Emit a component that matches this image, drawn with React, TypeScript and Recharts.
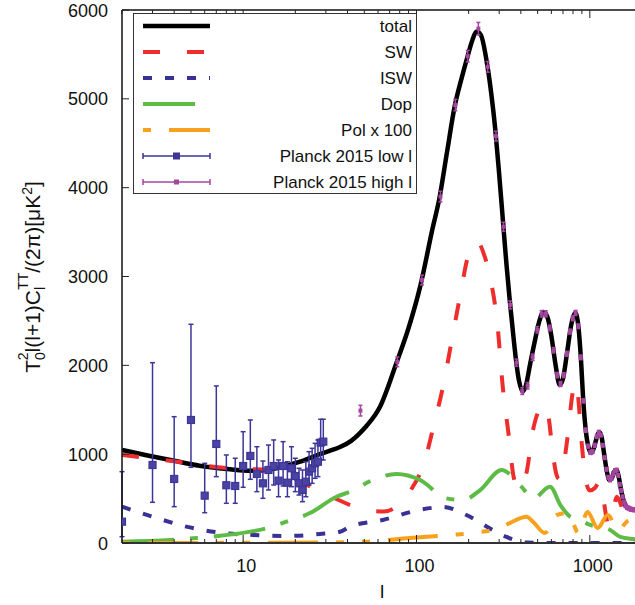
import React from 'react';
import { ComposedChart, Line, Scatter, XAxis, YAxis, ErrorBar, Legend } from 'recharts';

// multipoles l and D_l values in muK^2
const totalL = [2, 2.9, 4, 5.6, 8.4, 11, 14, 16.9, 21.3, 27.7, 33, 36.2, 42, 47, 51.6, 61.6, 76.7, 90, 105, 124.5, 135, 150, 166, 182, 197, 210, 222, 235, 256, 270, 285, 300, 316, 330, 345, 360, 375, 390, 410, 430, 450, 480, 510, 540, 570, 600, 635, 670, 700, 740, 780, 825, 860, 890, 916, 950, 985, 1018, 1060, 1100, 1134, 1170, 1210, 1250, 1298, 1340, 1380, 1424, 1470, 1520, 1570, 1630, 1700, 1830, 2000];
const totalV = [1047, 980, 925, 870, 830, 814, 825, 859, 915, 1000, 1050, 1080, 1150, 1235, 1320, 1535, 2030, 2420, 2886, 3562, 3862, 4400, 4913, 5230, 5476, 5660, 5757, 5720, 5382, 5060, 4650, 4150, 3603, 3150, 2736, 2380, 2061, 1830, 1704, 1790, 1990, 2260, 2490, 2601, 2540, 2330, 2000, 1779, 1850, 2150, 2450, 2590, 2430, 2050, 1610, 1250, 1070, 1013, 1080, 1200, 1250, 1190, 1000, 820, 709, 730, 800, 822, 740, 580, 470, 405, 385, 372, 340];

const swL = [2, 3, 4, 6, 8, 12, 15, 18, 20, 23, 28, 35, 45, 55, 65, 80, 93, 111, 126, 144, 160, 178, 200, 225, 245, 268, 292, 316, 339, 363, 385, 410, 431, 470, 510, 545, 580, 610, 640, 665, 700, 750, 790, 822, 850, 900, 950, 1000, 1070, 1140, 1200, 1280, 1350, 1430, 1500, 1570, 1740, 2000];
const swV = [990, 950, 920, 870, 845, 830, 820, 780, 720, 660, 580, 490, 400, 360, 355, 440, 600, 910, 1330, 1810, 2290, 2770, 3250, 3390, 3250, 2960, 2490, 1720, 1240, 750, 620, 660, 790, 1270, 1500, 1560, 1400, 1030, 780, 720, 850, 1250, 1650, 1810, 1700, 1100, 700, 590, 620, 690, 480, 210, 300, 520, 450, 330, 220, 170];

const iswL = [2, 3, 4.7, 7.35, 11.4, 17.8, 27.7, 36.2, 41.3, 64, 105, 142, 194, 276, 331, 433, 600, 1000, 2000];
const iswV = [409, 296, 184, 116, 90, 79, 101, 127, 184, 259, 374, 405, 315, 146, 68, 5, 0, 0, 0];

const dopL = [2, 3.8, 5.4, 7.35, 13.7, 17.8, 24.3, 34.6, 41.3, 56, 76.7, 105, 149, 186, 233, 310, 400, 472, 589, 680, 770, 880, 1005, 1145, 1310, 1500, 1785, 2000];
const dopV = [15, 34, 56, 82, 167, 240, 337, 521, 577, 709, 776, 709, 502, 484, 596, 822, 640, 502, 633, 420, 296, 259, 203, 180, 146, 68, 45, 35];

const polL = [2, 10, 30, 51.6, 91.6, 156, 222, 303, 345, 431, 470, 550, 642, 750, 860, 970, 1110, 1270, 1450, 1700, 2000];
const polV = [0, 2, 5, 15, 56, 90, 118, 169, 224, 296, 240, 113, 315, 338, 113, 349, 169, 315, 146, 259, 150];

const lowL = [2, 3, 4, 5, 6, 7, 8, 9, 10, 11, 12, 13, 14, 15, 16, 17, 18, 19, 20, 21, 22, 23, 24, 25, 26, 27, 28, 29];
const lowV = [240, 878, 721, 1385, 533, 1115, 650, 642, 867, 980, 777, 672, 822, 867, 702, 867, 679, 841, 754, 672, 597, 690, 803, 841, 897, 915, 1130, 1141];
const lowHi = [803, 2030, 1422, 2462, 897, 1768, 991, 954, 1253, 1385, 1084, 923, 1103, 1160, 935, 1141, 915, 1084, 954, 841, 822, 915, 1028, 1066, 1122, 1160, 1393, 1393];
const lowLo = [71, 458, 409, 852, 341, 747, 447, 447, 627, 717, 578, 503, 597, 653, 521, 642, 521, 634, 578, 540, 465, 521, 653, 672, 728, 747, 935, 935];

const highL = [47.5, 77.5, 107.5, 137.5, 167.5, 197.5, 227.5, 257.5, 287.5, 317.5, 347.5, 377.5, 407.5, 437.5, 467.5, 497.5, 527.5, 557.5, 587.5, 617.5, 647.5, 677.5, 707.5, 737.5, 767.5, 797.5, 827.5, 857.5, 887.5, 917.5, 947.5, 977.5, 1007.5, 1037.5, 1067.5, 1097.5, 1127.5, 1157.5, 1187.5, 1217.5, 1247.5, 1277.5, 1307.5, 1337.5, 1367.5, 1397.5, 1427.5, 1457.5, 1487.5, 1517.5, 1547.5, 1577.5, 1607.5, 1637.5, 1667.5, 1697.5, 1727.5, 1757.5, 1787.5, 1817.5];
const highV = [1490, 2040, 2960, 3900, 4930, 5480, 5790, 5360, 4580, 3560, 2680, 2030, 1710, 1770, 2090, 2400, 2580, 2580, 2420, 2170, 1890, 1790, 1890, 2130, 2380, 2530, 2590, 2440, 2090, 1600, 1270, 1090, 1020, 1030, 1100, 1200, 1245, 1215, 1100, 960, 830, 740, 710, 730, 780, 815, 820, 760, 660, 590, 520, 460, 420, 400, 395, 385, 380, 378, 374, 372];
const highErr = [60, 55, 55, 60, 65, 65, 70, 60, 55, 50, 45, 40, 38, 36, 36, 36, 36, 34, 32, 30, 30, 28, 28, 28, 28, 28, 28, 26, 26, 24, 24, 22, 22, 22, 22, 22, 22, 20, 20, 20, 20, 20, 20, 20, 20, 20, 20, 20, 20, 20, 20, 20, 20, 20, 20, 20, 20, 20, 20, 20];

const xTicks = [2, 3, 4, 5, 6, 7, 8, 9, 10, 20, 30, 40, 50, 60, 70, 80, 90, 100, 200, 300, 400, 500, 600, 700, 800, 900, 1000, 2000];
const yTicks = [0, 1000, 2000, 3000, 4000, 5000, 6000];
const majorX = [10, 100, 1000];

const legendNames = ['total', 'SW', 'ISW', 'Dop', 'Pol x 100', 'Planck 2015 low l', 'Planck 2015 high l'];

const FONT = '"Liberation Sans", Arial, Helvetica, sans-serif';
const C = {
  total: '#000000',
  sw: '#ee2d2d',
  isw: '#3a3194',
  dop: '#5dbb46',
  pol: '#f7a11c',
  low: '#3d3597',
  high: '#a4469f',
};

const toRows = (ls: number[], vs: number[]) => ls.map((l, i) => ({ l, v: vs[i] }));

const totalData = toRows(totalL, totalV);
const swData = toRows(swL, swV);
const iswData = toRows(iswL, iswV);
const dopData = toRows(dopL, dopV);
const polData = toRows(polL, polV);
const lowData = lowL.map((l, i) => ({ l, v: lowV[i], err: [lowV[i] - lowLo[i], lowHi[i] - lowV[i]] }));
const highData = highL.map((l, i) => ({ l, v: highV[i], err: highErr[i] }));

const BottomTick = (props: any) => {
  const { x, y, payload } = props;
  const major = majorX.includes(payload.value);
  return (
    <g>
      <line x1={x} x2={x} y1={y} y2={y - (major ? 8 : 4)} stroke="#222" strokeWidth={1} />
      {major && (
        <text x={x + 3} y={y + 29} textAnchor="middle" fontSize={18} fontFamily={FONT} fill="#111">
          {payload.value}
        </text>
      )}
    </g>
  );
};

const TopTick = (props: any) => {
  const { x, y, payload } = props;
  const major = majorX.includes(payload.value);
  return <line x1={x} x2={x} y1={y} y2={y + (major ? 8 : 4)} stroke="#222" strokeWidth={1} />;
};

const LeftTick = (props: any) => {
  const { x, y, payload } = props;
  return (
    <g>
      <line x1={x} x2={x + 7} y1={y} y2={y} stroke="#222" strokeWidth={1} />
      <text x={x - 14} y={y + 6.5} textAnchor="end" fontSize={18} fontFamily={FONT} fill="#111">
        {payload.value}
      </text>
    </g>
  );
};

const YLabel = () => (
  <text
    transform="translate(40,277) rotate(-90)"
    textAnchor="middle"
    fontSize={21}
    fontFamily={FONT}
    fill="#111"
  >
    T
    <tspan dy={5} fontSize={14}>0</tspan>
    <tspan dx={-8} dy={-17} fontSize={14}>2</tspan>
    <tspan dy={12}>l(l+1)C</tspan>
    <tspan dy={5} fontSize={14}>l</tspan>
    <tspan dx={-3} dy={-17} fontSize={14}>TT</tspan>
    <tspan dy={12}>/(2π)[μK</tspan>
    <tspan dy={-8} fontSize={14}>2</tspan>
    <tspan dy={8}>]</tspan>
  </text>
);

const XLabel = (props: any) => {
  const vb = props.viewBox || {};
  return (
    <text x={(vb.x || 122) + (vb.width || 520) / 2} y={598} textAnchor="middle" fontSize={19} fontFamily={FONT} fill="#111">
      l
    </text>
  );
};

const renderLegend = () => {
  const rowY = (i: number) => 13 + i * 26;
  const x0 = 10;
  const x1 = 77;
  return (
    <svg width={285} height={182} style={{ display: 'block' }}>
      <rect x={0.5} y={0.5} width={283} height={180} fill="#fff" stroke="#333" strokeWidth={1} />
      <line x1={x0} x2={x1} y1={rowY(0)} y2={rowY(0)} stroke={C.total} strokeWidth={4.5} />
      <line x1={x0} x2={x1} y1={rowY(1)} y2={rowY(1)} stroke={C.sw} strokeWidth={4} strokeDasharray="17 27" />
      <line x1={x0} x2={x1} y1={rowY(2)} y2={rowY(2)} stroke={C.isw} strokeWidth={4} strokeDasharray="9 13" />
      <line x1={x0} x2={x1} y1={rowY(3)} y2={rowY(3)} stroke={C.dop} strokeWidth={4} strokeDasharray="52 16 8 16" />
      <line x1={x0} x2={x1} y1={rowY(4)} y2={rowY(4)} stroke={C.pol} strokeWidth={4} strokeDasharray="8 18 50 18 8 18" />
      <g stroke={C.low} strokeWidth={1.5}>
        <line x1={x0} x2={x1} y1={rowY(5)} y2={rowY(5)} />
        <line x1={x0} x2={x0} y1={rowY(5) - 3} y2={rowY(5) + 3} />
        <line x1={x1} x2={x1} y1={rowY(5) - 3} y2={rowY(5) + 3} />
      </g>
      <rect x={(x0 + x1) / 2 - 3.5} y={rowY(5) - 3.5} width={7} height={7} fill={C.low} />
      <g stroke={C.high} strokeWidth={1.5}>
        <line x1={x0} x2={x1} y1={rowY(6)} y2={rowY(6)} />
        <line x1={x0} x2={x0} y1={rowY(6) - 3} y2={rowY(6) + 3} />
        <line x1={x1} x2={x1} y1={rowY(6) - 3} y2={rowY(6) + 3} />
      </g>
      <rect x={(x0 + x1) / 2 - 2.5} y={rowY(6) - 2.5} width={5} height={5} fill={C.high} />
      {legendNames.map((n, i) => (
        <text key={n} x={279} y={rowY(i) + 6} textAnchor="end" fontSize={17} fontFamily={FONT} fill="#111">
          {n}
        </text>
      ))}
    </svg>
  );
};

const LowShape = (p: any) => (
  <rect x={p.cx - 3.5} y={p.cy - 3.5} width={7} height={7} fill="#4a43a3" stroke={C.low} strokeWidth={1.2} />
);
const HighShape = (p: any) => <rect x={p.cx - 2} y={p.cy - 2} width={4} height={4} fill={C.high} />;

export default function App() {
  return (
    <div style={{ position: 'absolute', left: 0, top: 0, width: 635, height: 605, overflow: 'hidden', background: '#fff' }}>
      <ComposedChart width={660} height={605} margin={{ top: 9, right: 18, bottom: 61, left: 121 }}>
        <XAxis
          dataKey="l"
          type="number"
          scale="log"
          domain={[2, 2000]}
          allowDataOverflow
          ticks={xTicks}
          interval={0}
          height={1}
          tickSize={0}
          tickMargin={0}
          tickLine={false}
          tick={<BottomTick />}
          axisLine={{ stroke: '#333', strokeWidth: 2 }}
          label={<XLabel />}
        />
        <XAxis
          xAxisId="top"
          orientation="top"
          dataKey="l"
          type="number"
          scale="log"
          domain={[2, 2000]}
          allowDataOverflow
          ticks={xTicks}
          interval={0}
          height={1}
          tickSize={0}
          tickMargin={0}
          tickLine={false}
          tick={<TopTick />}
          axisLine={{ stroke: '#111', strokeWidth: 1.5 }}
        />
        <YAxis
          type="number"
          domain={[0, 6000]}
          allowDataOverflow
          ticks={yTicks}
          interval={0}
          width={1}
          tickSize={0}
          tickMargin={0}
          tickLine={false}
          tick={<LeftTick />}
          axisLine={{ stroke: '#111', strokeWidth: 1.5 }}
          label={<YLabel />}
        />
        <Legend
          layout="horizontal"
          verticalAlign="middle"
          align="center"
          content={renderLegend}
          wrapperStyle={{ left: 133, top: 13, width: 285, height: 182 }}
        />
        <Line data={totalData} dataKey="v" name="total" type="monotone" stroke={C.total} strokeWidth={4.5} dot={false} isAnimationActive={false} />
        <Line data={swData} dataKey="v" name="SW" type="monotone" stroke={C.sw} strokeWidth={4} strokeDasharray="17 27" dot={false} isAnimationActive={false} />
        <Line data={iswData} dataKey="v" name="ISW" type="monotone" stroke={C.isw} strokeWidth={4} strokeDasharray="9 13" dot={false} isAnimationActive={false} />
        <Line data={dopData} dataKey="v" name="Dop" type="monotone" stroke={C.dop} strokeWidth={4} strokeDasharray="52 16 8 16" dot={false} isAnimationActive={false} />
        <Line data={polData} dataKey="v" name="Pol x 100" type="monotone" stroke={C.pol} strokeWidth={4} strokeDasharray="8 18 50 18 8 18" dot={false} isAnimationActive={false} />
        <Scatter data={lowData} dataKey="v" name="Planck 2015 low l" shape={LowShape} isAnimationActive={false}>
          <ErrorBar dataKey="err" direction="y" width={2.5} stroke={C.low} strokeWidth={1.5} isAnimationActive={false} />
        </Scatter>
        <Scatter data={highData} dataKey="v" name="Planck 2015 high l" shape={HighShape} isAnimationActive={false}>
          <ErrorBar dataKey="err" direction="y" width={2} stroke={C.high} strokeWidth={1.5} isAnimationActive={false} />
        </Scatter>
      </ComposedChart>
    </div>
  );
}
